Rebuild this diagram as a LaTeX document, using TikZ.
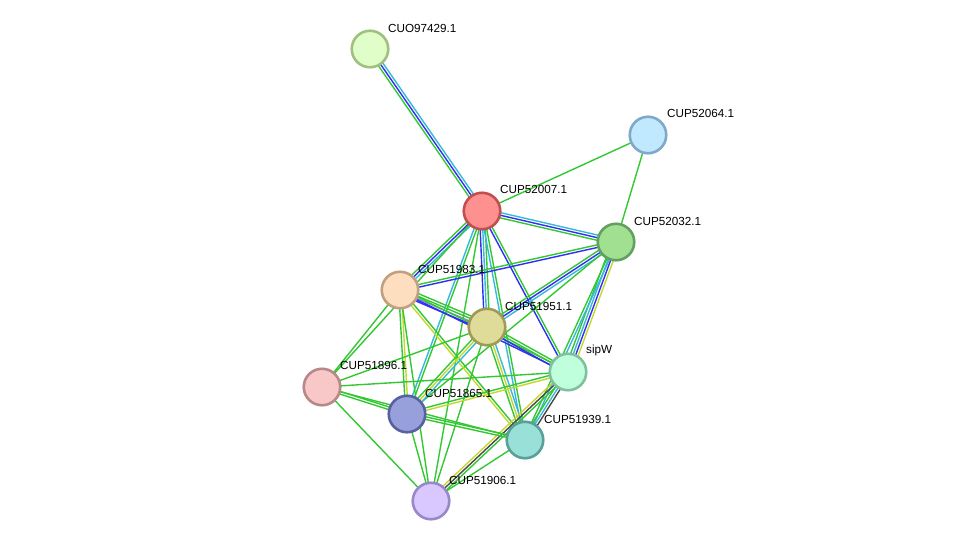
\documentclass[tikz,border=0pt]{standalone}
\usepackage{fontspec}
\setmainfont{Liberation Sans}
\usetikzlibrary{calc}
\pgfdeclarelayer{background}
\pgfsetlayers{background,main}
\definecolor{eG}{HTML}{33C833}
\definecolor{eB}{HTML}{3030F0}
\definecolor{eC}{HTML}{38B8DC}
\definecolor{eY}{HTML}{C4D830}
\definecolor{eD}{HTML}{484848}
\definecolor{eL}{HTML}{8C8CC8}
\tikzset{
  prot/.style={circle,minimum size=36.5pt,inner sep=0pt,line width=2.6pt},
  lbl/.style={anchor=west,inner sep=0pt,font=\fontsize{11.7}{13}\selectfont},
  edge/.style={line width=1.4pt},
}
\newcommand\medge[4]{%
  \foreach \cc [count=\ii] in {#4}{%
    \pgfmathsetmacro\off{(\ii-1-(#3-1)/2)*2.6}%
    \draw[edge,\cc] ($(#1.center)!\off pt!90:(#2.center)$) -- ($(#2.center)!\off pt!-90:(#1.center)$);
  }}
\begin{document}
\begin{tikzpicture}[x=1pt,y=-1pt]
\useasboundingbox (0,0) rectangle (975,547);
\node[prot,fill={rgb,255:red,224;green,255;blue,200},draw={rgb,255:red,160;green,192;blue,128}] (a) at (370,49) {};
\node[prot,fill={rgb,255:red,192;green,232;blue,255},draw={rgb,255:red,128;green,168;blue,200}] (b) at (648,135) {};
\node[prot,fill={rgb,255:red,255;green,144;blue,144},draw={rgb,255:red,192;green,80;blue,80}] (c) at (482,211) {};
\node[prot,fill={rgb,255:red,160;green,224;blue,144},draw={rgb,255:red,96;green,160;blue,96}] (d) at (616,242) {};
\node[prot,fill={rgb,255:red,255;green,222;blue,192},draw={rgb,255:red,192;green,160;blue,128}] (e) at (400,290) {};
\node[prot,fill={rgb,255:red,222;green,220;blue,152},draw={rgb,255:red,160;green,154;blue,88}] (f) at (487,327) {};
\node[prot,fill={rgb,255:red,192;green,255;blue,220},draw={rgb,255:red,128;green,192;blue,160}] (g) at (568,372) {};
\node[prot,fill={rgb,255:red,248;green,200;blue,200},draw={rgb,255:red,184;green,136;blue,136}] (h) at (322,387) {};
\node[prot,fill={rgb,255:red,152;green,160;blue,220},draw={rgb,255:red,88;green,96;blue,160}] (i) at (407,414) {};
\node[prot,fill={rgb,255:red,152;green,224;blue,216},draw={rgb,255:red,88;green,160;blue,152}] (j) at (525,440) {};
\node[prot,fill={rgb,255:red,216;green,200;blue,255},draw={rgb,255:red,152;green,136;blue,200}] (k) at (431,501) {};
\node[lbl] (la) at (388,28) {CUO97429.1};
\node[lbl] (lb) at (667,113) {CUP52064.1};
\node[lbl] (lc) at (500,189) {CUP52007.1};
\node[lbl] (ld) at (634,221) {CUP52032.1};
\node[lbl] (le) at (418,269) {CUP51983.1};
\node[lbl] (lf) at (505,306) {CUP51951.1};
\node[lbl] (lg) at (586,350) {sipW};
\node[lbl] (lh) at (340,365) {CUP51896.1};
\node[lbl] (li) at (425,393) {CUP51865.1};
\node[lbl] (lj) at (544,419) {CUP51939.1};
\node[lbl] (lk) at (449,480) {CUP51906.1};
\begin{pgfonlayer}{background}
\medge{a}{c}{3}{eG,eB,eC}
\medge{b}{c}{1}{eG}
\medge{b}{d}{1}{eG}
\medge{c}{d}{3}{eG,eB,eC}
\medge{c}{e}{3}{eG,eB,eC}
\medge{c}{f}{3}{eB,eC,eG}
\medge{c}{g}{2}{eB,eG}
\medge{c}{j}{2}{eC,eG}
\medge{c}{i}{2}{eC,eG}
\medge{c}{k}{1}{eG}
\medge{c}{h}{1}{eG}
\medge{d}{e}{2}{eG,eB}
\medge{d}{f}{3}{eG,eB,eC}
\medge{d}{g}{4}{eG,eC,eB,eY}
\medge{d}{j}{2}{eG,eC}
\medge{d}{i}{1}{eG}
\medge{e}{f}{4}{eB,eL,eG,eG}
\medge{e}{g}{2}{eB,eG}
\medge{e}{h}{1}{eG}
\medge{e}{i}{2}{eG,eY}
\medge{e}{j}{2}{eY,eG}
\medge{e}{k}{1}{eG}
\medge{f}{g}{3}{eB,eG,eG}
\medge{f}{h}{1}{eG}
\medge{f}{i}{3}{eG,eY,eC}
\medge{f}{j}{3}{eG,eY,eC}
\medge{f}{k}{1}{eG}
\medge{g}{h}{1}{eG}
\medge{g}{i}{2}{eG,eY}
\medge{g}{j}{3}{eG,eC,eD}
\medge{g}{k}{3}{eY,eD,eG}
\medge{h}{i}{2}{eG,eG}
\medge{h}{j}{1}{eG}
\medge{h}{k}{1}{eG}
\medge{i}{j}{2}{eG,eG}
\medge{i}{k}{1}{eG}
\medge{j}{k}{1}{eG}
\end{pgfonlayer}
\end{tikzpicture}
\end{document}
